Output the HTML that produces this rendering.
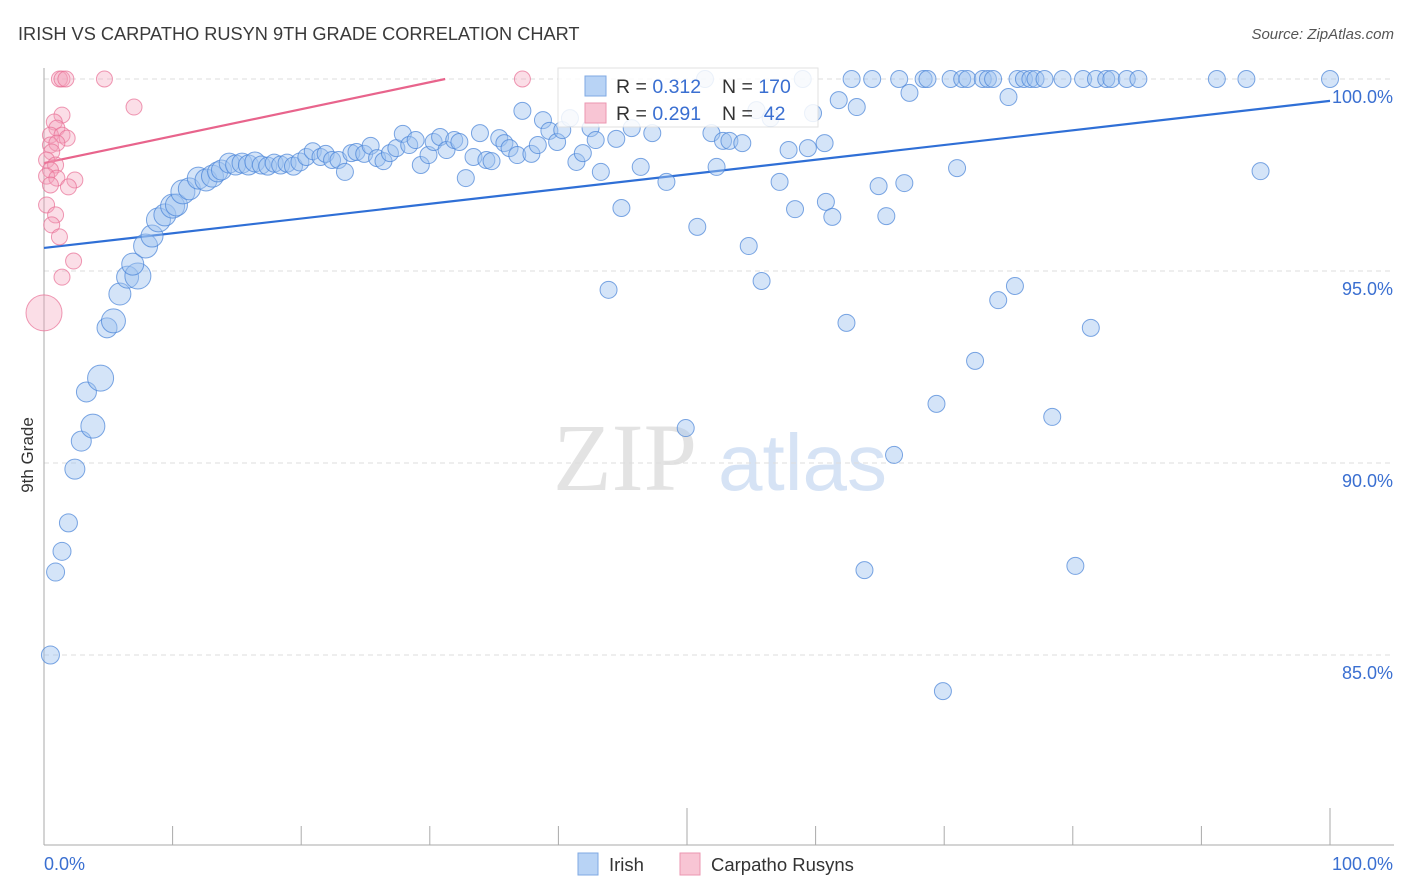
<!DOCTYPE html>
<html><head><meta charset="utf-8">
<style>
body{margin:0;background:#fff;font-family:"Liberation Sans",sans-serif;}
svg{display:block}
</style></head>
<body>
<svg id="chart" width="1406" height="892" xmlns="http://www.w3.org/2000/svg">
<text x="18" y="40" font-size="18.2" fill="#3a3a3a">IRISH VS CARPATHO RUSYN 9TH GRADE CORRELATION CHART</text>
<text x="1394" y="39" font-size="15" fill="#555" font-style="italic" text-anchor="end">Source: ZipAtlas.com</text>
<text transform="translate(33,455) rotate(-90)" font-size="17" fill="#333" text-anchor="middle">9th Grade</text>
<g>
<text x="553" y="490" font-size="96" font-family="Liberation Serif,serif" fill="#e3e3e3">ZIP</text>
<text x="718" y="490" font-size="80" fill="#d6e3f5">atlas</text>
</g>
<g id="grid"></g>
<g id="axes"></g>
<g id="lines"></g>
<g id="pts"></g>
<g id="legend">
<rect x="558" y="68" width="260" height="59" fill="#fff" stroke="#ddd" opacity="0.85"/>
<rect x="585" y="76" width="21" height="20" fill="#b8d3f5" stroke="#7fa9e3"/>
<text x="616" y="93" font-size="19.5" fill="#333">R = <tspan fill="#3a6fd1">0.312</tspan></text>
<text x="722" y="93" font-size="19.5" fill="#333">N = <tspan fill="#3a6fd1">170</tspan></text>
<rect x="585" y="103" width="21" height="20" fill="#f8c5d4" stroke="#eb96b0"/>
<text x="616" y="120" font-size="19.5" fill="#333">R = <tspan fill="#3a6fd1">0.291</tspan></text>
<text x="722" y="120" font-size="19.5" fill="#333">N = <tspan fill="#3a6fd1">&#160;42</tspan></text>
</g>
<g>
<rect x="578" y="853" width="20" height="22" fill="#b8d3f5" stroke="#7fa9e3"/>
<text x="609" y="871" font-size="18.5" fill="#333">Irish</text>
<rect x="680" y="853" width="20" height="22" fill="#f8c5d4" stroke="#eb96b0"/>
<text x="711" y="871" font-size="18.5" fill="#333">Carpatho Rusyns</text>
</g>
</svg>
<script>
const yTicks=[85,90,95,100];
const yTickLabels=["85.0%","90.0%","95.0%","100.0%"];
const xTickLabels=["0.0%","100.0%"];
const irishX=[0.5,0.9,1.4,1.9,2.4,2.9,3.8,3.3,4.4,4.9,5.4,5.9,6.5,7.3,6.9,7.9,8.4,8.9,9.4,10.0,10.3,10.8,11.3,12.0,12.6,13.1,13.5,13.8,14.4,14.9,15.4,15.9,16.4,16.9,17.4,17.9,18.4,18.9,19.4,19.9,20.4,20.9,21.5,21.9,22.4,22.9,23.4,23.9,24.3,24.9,25.4,25.9,26.4,26.9,27.4,27.9,28.4,28.9,29.3,29.9,30.3,30.8,31.3,31.9,32.3,32.8,33.4,33.9,34.4,34.8,35.4,35.8,36.2,36.8,37.2,37.9,38.4,38.8,39.3,39.9,40.3,40.9,41.4,41.9,42.5,42.9,43.3,43.9,44.5,44.9,45.7,46.4,47.3,48.4,49.9,50.8,51.4,51.9,52.3,52.8,53.3,54.3,54.8,55.4,55.8,56.5,57.2,57.9,58.4,59.0,59.4,59.8,60.7,60.8,61.3,61.8,62.4,62.8,63.2,63.8,64.4,64.9,65.5,66.1,66.5,66.9,67.3,68.4,68.7,69.4,69.9,70.5,71.0,71.4,71.8,72.4,73.0,73.4,73.8,74.2,75.0,75.5,75.7,76.2,76.7,77.1,77.8,78.4,79.2,80.2,80.8,81.4,81.8,82.6,83.0,84.2,85.1,91.2,93.5,94.6,100];
const irishY=[85.0,87.16,87.7,88.44,89.84,90.57,90.96,91.85,92.21,93.52,93.70,94.40,94.84,94.87,95.18,95.65,95.91,96.33,96.46,96.69,96.72,97.06,97.14,97.42,97.37,97.47,97.58,97.63,97.81,97.76,97.81,97.76,97.84,97.76,97.73,97.81,97.76,97.81,97.73,97.84,97.97,98.12,97.97,98.05,97.89,97.89,97.58,98.07,98.10,98.05,98.26,97.94,97.86,98.07,98.20,98.57,98.28,98.41,97.76,98.02,98.36,98.49,98.15,98.41,98.36,97.42,97.97,98.59,97.89,97.86,98.46,98.33,98.20,98.02,99.17,98.05,98.28,98.93,98.65,98.36,98.67,98.98,97.84,98.07,98.72,98.41,97.58,94.51,98.44,96.64,98.72,97.71,98.59,97.32,90.91,96.15,100,98.59,97.71,98.39,98.39,98.33,95.65,99.19,94.74,98.98,97.32,98.15,96.61,100,98.20,99.11,98.33,96.80,96.41,99.45,93.65,100,99.27,87.21,100,97.21,96.43,90.21,100,97.29,99.64,100,100,91.54,84.06,100,97.68,100,100,92.66,100,100,100,94.24,99.53,94.61,100,100,100,100,100,91.20,100,87.32,100,93.52,100,100,100,100,100,100,100,97.60,100];
const irishSize=[9,9,9,9,10,10,12,10,13,10,12,11,11,13,11,12,11,12,11,12,11,12,11,11,11,11,10,10,10,10,10,10,10,9,9,9,9,9,9,9];
const carpX=[1.2,1.4,1.7,4.7,37.2,7.0,1.4,0.8,1.0,0.5,1.4,1.8,0.5,1.0,0.6,0.2,0.9,0.5,0.2,1.0,2.4,0.5,1.9,0.2,0.9,0.6,1.2,2.3,1.4,0];
const carpY=[100,100,100,100,100,99.27,99.06,98.88,98.72,98.54,98.54,98.46,98.28,98.33,98.10,97.89,97.76,97.63,97.47,97.42,97.37,97.24,97.19,96.72,96.46,96.20,95.89,95.26,94.84,93.91];
const carpSize=[8,8,8,8,8,8,8,8,8,8,8,8,8,8,8,8,8,8,8,8,8,8,8,8,8,8,8,8,8,18];
const irishTrend=[95.60,99.43];
const carpTrend=[97.81,0.0702];

const NS="http://www.w3.org/2000/svg";
const X0=44,X1=1330,YTOP=79,PXPER=38.4;
const xs=v=>X0+(X1-X0)*v/100;
const ys=v=>YTOP+(100-v)*PXPER;
function mk(tag,attrs,parent){const e=document.createElementNS(NS,tag);for(const k in attrs)e.setAttribute(k,attrs[k]);parent.appendChild(e);return e;}
const grid=document.getElementById('grid'),axes=document.getElementById('axes'),lines=document.getElementById('lines'),pts=document.getElementById('pts');
yTicks.forEach((t,i)=>{
 const l=mk('line',{x1:44,x2:1394,y1:ys(t),y2:ys(t),stroke:'#ddd','stroke-dasharray':'5,4'},grid);
 
 
 const tx=mk('text',{x:1393,y:ys(t)+24,'font-size':18,fill:'#3a6fd1','text-anchor':'end'},axes);
 tx.textContent=yTickLabels[i];
 
 
});
const ya=mk('line',{x1:44,x2:44,y1:68,y2:845,stroke:'#aaa'},axes);


const xa=mk('line',{x1:44,x2:1394,y1:845,y2:845,stroke:'#aaa'},axes);


for(let i=1;i<=10;i++){
 const t=mk('line',{x1:xs(i*10),x2:xs(i*10),y1:(i%5==0)?808:826,y2:845,stroke:'#aaa'},axes);
 
 
}
[[0,'start',44],[100,'end',1393]].forEach((d,i)=>{
 const t=mk('text',{x:d[2],y:870,'font-size':18,fill:'#3a6fd1','text-anchor':d[1]},axes);
 t.textContent=xTickLabels[i];
 
 
});
const bl=mk('line',{x1:xs(0),y1:ys(irishTrend[0]),x2:xs(100),y2:ys(irishTrend[1]),stroke:'#2f6fd6','stroke-width':2.2},lines);


const xEnd=Math.min(100,(100-carpTrend[0])/carpTrend[1]);
const pl=mk('line',{x1:xs(0),y1:ys(carpTrend[0]),x2:xs(xEnd),y2:ys(carpTrend[0]+carpTrend[1]*xEnd),stroke:'#e8648c','stroke-width':2.2},lines);


carpX.forEach((x,i)=>{
 const c=mk('circle',{cx:xs(x),cy:ys(carpY[i]),r:carpSize[i],fill:'rgba(244,160,185,0.35)',stroke:'rgba(232,110,148,0.7)','stroke-width':1},pts);
 
 
});
irishX.forEach((x,i)=>{
 const c=mk('circle',{cx:xs(x),cy:ys(irishY[i]),r:irishSize[i]||8.5,fill:'rgba(160,196,240,0.45)',stroke:'rgba(70,130,215,0.7)','stroke-width':1},pts);
 
 
});
document.getElementById('chart').appendChild(document.getElementById('legend'));
</script>
</body></html>
